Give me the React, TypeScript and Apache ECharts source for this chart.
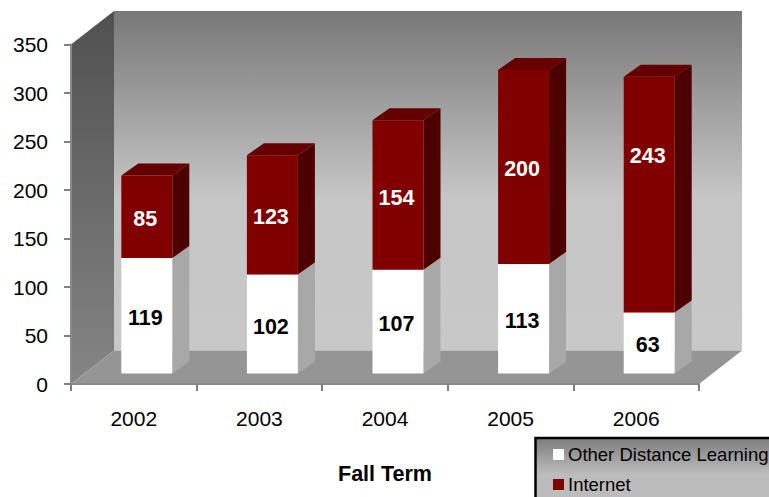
import React, { useEffect, useRef } from "react";
import * as echarts from "echarts";

const categories = ["2002", "2003", "2004", "2005", "2006"];
const otherValues = [119, 102, 107, 113, 63];
const internetValues = [85, 123, 154, 200, 243];
const yTicks = { min: 0, max: 350, interval: 50 };
const xTitle = "Fall Term";
const otherName = "Other Distance Learning";
const internetName = "Internet";

const FONT = "'Liberation Sans', Arial, sans-serif";
const WALL_DX = 43;
const WALL_DY = -33.5;
const BAR_SHIFT_X = 13;
const BAR_SHIFT_Y = -10.5;
const BAR_DX = 17;
const BAR_DY = -12;
const BAR_WIDTH = 51;
// the 2006 Internet label sits higher than the middle of its bar in the reference
const LABEL_LIFT = [0, 0, 0, 0, 41];

const vGrad = (stops: [number, string][]) =>
  new echarts.graphic.LinearGradient(0, 0, 0, 1, stops.map(([offset, color]) => ({ offset, color })));

function renderWalls(params: any) {
  const c = params.coordSys;
  const x0 = c.x, x1 = c.x + c.width, top = c.y, bot = c.y + c.height;
  return {
    type: "group",
    children: [
      {
        type: "polygon",
        shape: { points: [[x0 + WALL_DX, top + WALL_DY], [x1 + WALL_DX, top + WALL_DY], [x1 + WALL_DX, bot + WALL_DY], [x0 + WALL_DX, bot + WALL_DY]] },
        style: { fill: vGrad([[0, "#787878"], [0.55, "#c6c6c6"], [1, "#c8c8c8"]]) },
      },
      {
        type: "polygon",
        shape: { points: [[x0, top], [x0 + WALL_DX, top + WALL_DY], [x0 + WALL_DX, bot + WALL_DY], [x0, bot]] },
        style: { fill: vGrad([[0, "#505050"], [1, "#858585"]]) },
      },
      {
        type: "polygon",
        shape: { points: [[x0, bot], [x0 + WALL_DX, bot + WALL_DY], [x1 + WALL_DX, bot + WALL_DY], [x1, bot]] },
        style: { fill: "#959595" },
      },
    ],
  };
}

function makeBarRenderer(front: string, side: string, topFace: string, textColor: string, lifted: boolean) {
  return (params: any, api: any) => {
    const idx = api.value(0);
    const base = api.value(1);
    const val = api.value(2);
    const [cx, yBase] = api.coord([idx, base]);
    const [, yTop] = api.coord([idx, base + val]);
    const l = cx + BAR_SHIFT_X - BAR_WIDTH / 2;
    const r = l + BAR_WIDTH;
    const t = yTop + BAR_SHIFT_Y;
    const b = yBase + BAR_SHIFT_Y;
    const lift = lifted ? LABEL_LIFT[idx] : 0;
    return {
      type: "group",
      children: [
        {
          type: "polygon",
          shape: { points: [[r, t], [r + BAR_DX, t + BAR_DY], [r + BAR_DX, b + BAR_DY], [r, b]] },
          style: { fill: side },
        },
        {
          type: "polygon",
          shape: { points: [[l, t], [l + BAR_DX, t + BAR_DY], [r + BAR_DX, t + BAR_DY], [r, t]] },
          style: { fill: topFace },
        },
        { type: "rect", shape: { x: l, y: t, width: BAR_WIDTH, height: b - t }, style: { fill: front } },
        {
          type: "text",
          style: {
            text: String(val),
            x: (l + r) / 2 - 1.5,
            y: (t + b) / 2 + 2.5 - lift,
            fill: textColor,
            fontFamily: FONT,
            fontSize: 21.5,
            fontWeight: "bold",
            align: "center",
            verticalAlign: "middle",
          },
        },
      ],
    };
  };
}

export default function App() {
  const ref = useRef<HTMLDivElement>(null);
  useEffect(() => {
    const chart = echarts.init(ref.current!, undefined, { renderer: "svg" });
    const otherData = categories.map((_, i) => [i, 0, otherValues[i]]);
    const internetData = categories.map((_, i) => [i, otherValues[i], internetValues[i]]);
    chart.setOption({
      animation: false,
      backgroundColor: "#ffffff",
      textStyle: { fontFamily: FONT },
      grid: { left: 71, top: 44.5, width: 628, height: 339.5, containLabel: false },
      xAxis: {
        type: "category",
        data: categories,
        z: 10,
        name: xTitle,
        nameLocation: "middle",
        nameGap: 79,
        nameTextStyle: { fontFamily: FONT, fontSize: 21.5, fontWeight: "bold", color: "#000" },
        axisLine: { lineStyle: { color: "#8a8a8a", width: 2 } },
        axisTick: { show: true, alignWithLabel: false, length: 7, lineStyle: { color: "#808080", width: 2 } },
        axisLabel: { fontFamily: FONT, fontSize: 21, color: "#000", margin: 24 },
        splitLine: { show: false },
      },
      yAxis: {
        type: "value",
        min: yTicks.min,
        max: yTicks.max,
        interval: yTicks.interval,
        z: 10,
        axisLine: { show: true, lineStyle: { color: "#8a8a8a", width: 2 } },
        axisTick: { show: true, length: 7, lineStyle: { color: "#808080", width: 2 } },
        axisLabel: { fontFamily: FONT, fontSize: 21, color: "#000", margin: 23, padding: [4, 0, 0, 0] },
        splitLine: { show: false },
      },
      legend: {
        data: [otherName, internetName],
        orient: "vertical",
        left: 553,
        top: 445,
        padding: 0,
        itemWidth: 11,
        itemHeight: 11,
        itemGap: 11,
        icon: "rect",
        selectedMode: false,
        align: "left",
        z: 20,
        textStyle: { fontFamily: FONT, fontSize: 18.5, color: "#000", padding: [0, 0, 0, -1] },
      },
      graphic: [
        {
          type: "rect",
          z: 5,
          silent: true,
          shape: { x: 535.5, y: 438, width: 260, height: 90 },
          style: {
            fill: vGrad([[0, "#7c7c7c"], [0.4, "#bcbcbc"], [1, "#bcbcbc"]]),
            stroke: "#000",
            lineWidth: 2.5,
          },
        },
      ],
      series: [
        {
          type: "custom",
          name: "walls",
          z: 1,
          silent: true,
          renderItem: renderWalls,
          data: [[0, 0]],
          encode: { x: 0, y: 1 },
        },
        {
          type: "custom",
          name: otherName,
          z: 3,
          itemStyle: { color: "#ffffff" },
          renderItem: makeBarRenderer("#ffffff", "#a8a8a8", "#e0e0e0", "#000000", false),
          data: otherData,
          encode: { x: 0, y: 2 },
        },
        {
          type: "custom",
          name: internetName,
          z: 4,
          itemStyle: { color: "#800000" },
          renderItem: makeBarRenderer("#800000", "#4d0000", "#650000", "#ffffff", true),
          data: internetData,
          encode: { x: 0, y: 2 },
        },
      ],
    });
    return () => chart.dispose();
  }, []);
  return <div ref={ref} style={{ position: "absolute", left: 0, top: 0, width: 769, height: 497 }} />;
}
